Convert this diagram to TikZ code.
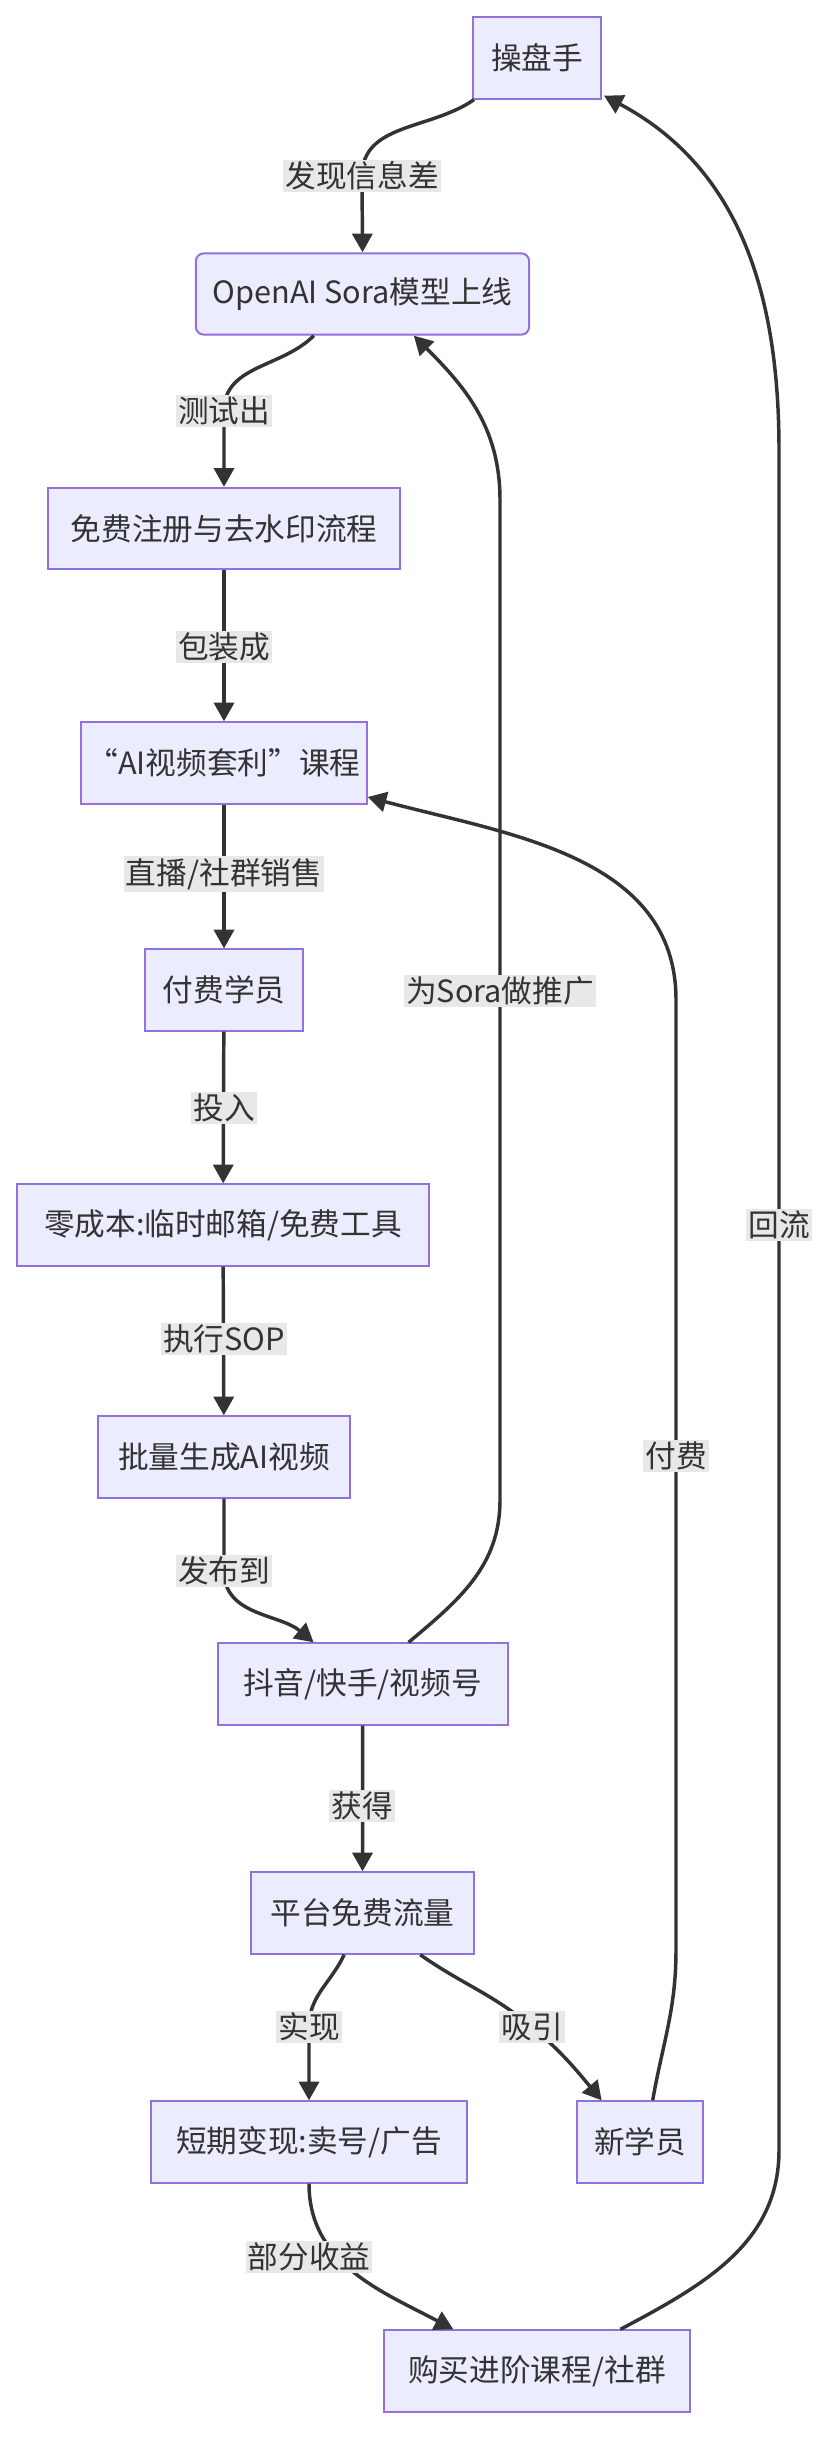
\documentclass[tikz,border=0pt]{standalone}
\usepackage{fontspec}
\setmainfont{Noto Sans CJK SC}
\usetikzlibrary{arrows.meta,calc}
\definecolor{mfill}{HTML}{ECECFF}
\definecolor{mborder}{HTML}{9370DB}
\definecolor{mline}{HTML}{333333}
\definecolor{mlbl}{HTML}{E8E8E8}
\begin{document}
\begin{tikzpicture}[x=0.75pt,y=-0.75pt,
  box/.style={draw=mborder,fill=mfill,line width=1.5pt,text=mline,font=\fontsize{23}{27}\selectfont,minimum height=61pt,inner sep=0pt},
  lbl/.style={fill=mlbl,text=mline,font=\fontsize{23}{27}\selectfont,inner sep=1.5pt},
  arr/.style={draw=mline,line width=2.6pt,-{Triangle[length=14pt,width=15pt]}},
  ln/.style={draw=mline,line width=2.6pt}]
\useasboundingbox (0,0) rectangle (824,2440);
\node[box,minimum width=96pt] (op) at (537,58) {操盘手};
\node[box,minimum width=250pt,rounded corners=6pt] (sora) at (362.5,294) {OpenAI Sora模型上线};
\node[box,minimum width=264pt] (reg) at (224,528.5) {免费注册与去水印流程};
\node[box,minimum width=214pt] (course) at (224,763) {“AI视频套利”课程};
\node[box,minimum width=118.5pt] (paid) at (224,990) {付费学员};
\node[box,minimum width=309pt] (zero) at (223,1225) {零成本:临时邮箱/免费工具};
\node[box,minimum width=189pt] (batch) at (224,1457) {批量生成AI视频};
\node[box,minimum width=217.5pt] (plat) at (362.6,1684) {抖音/快手/视频号};
\node[box,minimum width=167pt] (traffic) at (362.5,1913) {平台免费流量};
\node[box,minimum width=237pt] (short) at (309,2142) {短期变现:卖号/广告};
\node[box,minimum width=95pt] (new) at (640,2142) {新学员};
\node[box,minimum width=229pt] (adv) at (537,2371) {购买进阶课程/社群};

\coordinate (c1) at (362,176);
\coordinate (c2) at (224,411);
\coordinate (c7) at (224,1571);
\coordinate (c10) at (309,2027);
\coordinate (c11) at (532,2027);

\draw[arr] ($(op.south west)+(2,0)$) to[out=-145,in=90] (c1) -- (sora.north);
\draw[arr] ($(sora.south west)+(119,0)$) to[out=-135,in=90] (c2) -- (reg.north);
\draw[arr] (reg) -- (course);
\draw[arr] (course) -- (paid);
\draw[arr] (paid) -- (zero);
\draw[arr] (zero) -- (batch);
\draw[arr] (batch.south) -- (c7) to[out=-90,in=140] ($(plat.north west)+(97,0)$);
\draw[arr] ($(plat.north west)+(192,0)$) to[out=40,in=-90] (500,1500) -- (500,500) to[out=90,in=-45] ($(sora.south west)+(219,0)$);
\draw[arr] (plat) -- (traffic);
\draw[arr] ($(traffic.south west)+(94,0)$) to[out=-115,in=90] (c10) -- (short.north);
\draw[arr] ($(traffic.south west)+(170,0)$) to[out=-35,in=140] (c11) to[out=-40,in=130] ($(new.north west)+(26,0)$);
\draw[arr] ($(new.north west)+(77,0)$) to[out=80,in=-90] (676,1950) -- (676,1000) to[out=90,in=-15] ($(course.east)+(0,34)$);
\draw[arr] (short.south) to[out=-90,in=152] ($(adv.north west)+(70,0)$);
\draw[arr] ($(adv.north west)+(237,0)$) to[out=28,in=-90] (779,2150) -- (779,450) to[out=90,in=-28] ($(op.south east)+(2,-4)$);

\node[lbl] (l1) at (c1) {发现信息差};
\node[lbl] (l2) at (c2) {测试出};
\node[lbl] (l3) at (224,647) {包装成};
\node[lbl] (l4) at (224,874) {直播/社群销售};
\node[lbl] (l5) at (224,1108) {投入};
\node[lbl] (l6) at (224,1339) {执行SOP};
\node[lbl] (l7) at (c7) {发布到};
\node[lbl] (l8) at (500,991) {为Sora做推广};
\node[lbl] (l9) at (362,1806) {获得};
\node[lbl] (l10) at (c10) {实现};
\node[lbl] (l11) at (c11) {吸引};
\node[lbl] (l12) at (676,1456) {付费};
\node[lbl] (l13) at (309,2257) {部分收益};
\node[lbl] (l14) at (779,1225) {回流};
\end{tikzpicture}
\end{document}
